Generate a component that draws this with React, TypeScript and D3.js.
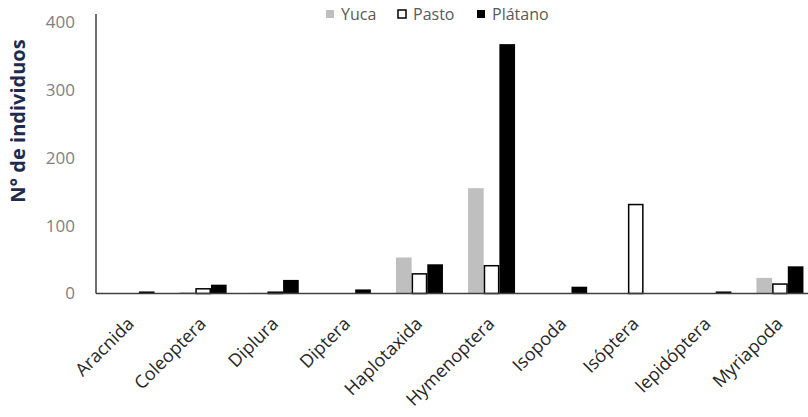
import React from "react";
import * as d3 from "d3";

const categories = ["Aracnida", "Coleoptera", "Diplura", "Diptera", "Haplotaxida", "Hymenoptera", "Isopoda", "Isóptera", "lepidóptera", "Myriapoda"];
const seriesNames = ["Yuca", "Pasto", "Plátano"];
const yuca = [0, 2, 1, 0, 53, 155, 0, 0, 0, 23];
const pasto = [0, 8, 3, 0, 30, 42, 0, 132, 0, 15];
const platano = [3, 13, 20, 6, 43, 367, 10, 0, 3, 40];
const yTicks = [0, 100, 200, 300, 400];

const seriesValues = [yuca, pasto, platano];
const fills = ["#bfbfbf", "#ffffff", "#000000"];
const strokes = ["none", "#000000", "none"];

const W = 808, H = 417;
const x0 = 95, x1 = 816, yBase = 293.5, yTop = 21.7;

export default function App() {
  const x = d3.scaleBand<string>().domain(categories).range([x0, x1]).padding(0);
  const groupW = 47;
  const xs = d3.scaleBand<string>().domain(seriesNames).range([0, groupW]).padding(0);
  const y = d3.scaleLinear().domain([0, 400]).range([yBase, yTop]);
  const font = "'Open Sans', 'Liberation Sans', sans-serif";

  return (
    <svg width={W} height={H} style={{ position: "absolute", left: 0, top: 0, background: "#fff" }} fontFamily={font}>
      <rect x={0} y={0} width={W} height={H} fill="#fff" />
      {seriesNames.map((s, si) =>
        categories.map((c, ci) => {
          const v = seriesValues[si][ci];
          if (v <= 0) return null;
          const bx = (x(c) as number) + x.bandwidth() / 2 - groupW / 2 + (xs(s) as number);
          const h = yBase - y(v);
          const sw = strokes[si] === "none" ? 0 : 1.5;
          return (
            <rect key={s + c} x={bx + sw / 2} y={y(v) + sw / 2} width={xs.bandwidth() - sw} height={Math.max(h - sw / 2, 0.5)}
              fill={fills[si]} stroke={strokes[si]} strokeWidth={sw} />
          );
        })
      )}
      <line x1={96} x2={96} y1={14} y2={yBase} stroke="#404040" strokeWidth={1.5} />
      <line x1={96} x2={W} y1={yBase} y2={yBase} stroke="#404040" strokeWidth={1.5} />
      {yTicks.map(t => (
        <text key={t} x={75} y={y(t)} dy="0.35em" textAnchor="end" fontSize={17} fill="#7f7f7f">{t}</text>
      ))}
      <text transform={`translate(25,121) rotate(-90)`} textAnchor="middle" fontSize={20} fontWeight="bold" fill="#1f2a4d">N° de individuos</text>
      {categories.map(c => {
        const cx = (x(c) as number) + x.bandwidth() / 2;
        return (
          <text key={c} transform={`translate(${cx + 4},${325}) rotate(-45)`} textAnchor="end" fontSize={18} fill="#262626">{c}</text>
        );
      })}
      {seriesNames.map((s, si) => {
        const lx = [326, 398, 477][si];
        return (
          <g key={s}>
            <rect x={lx} y={10} width={8} height={8} fill={fills[si]} stroke={strokes[si] === "none" ? "none" : "#000"} strokeWidth={1.5} />
            <text x={lx + 15} y={14} dy="0.35em" fontSize={16} fill="#595959">{s}</text>
          </g>
        );
      })}
    </svg>
  );
}
